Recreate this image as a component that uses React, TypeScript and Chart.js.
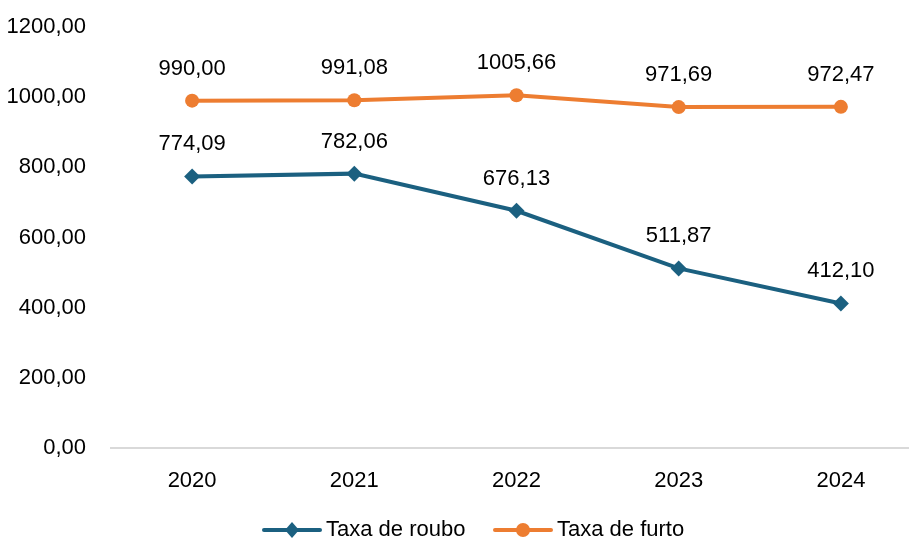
import React, { useEffect, useRef } from "react";
import { Chart, registerables } from "chart.js";

Chart.register(...registerables);

const years = ["2020", "2021", "2022", "2023", "2024"];
const roubo = [774.09, 782.06, 676.13, 511.87, 412.1];
const furto = [990.0, 991.08, 1005.66, 971.69, 972.47];
const seriesNames = ["Taxa de roubo", "Taxa de furto"];
const yTicks = [0, 200, 400, 600, 800, 1000, 1200];

const BLUE = "#1b6080";
const ORANGE = "#ed7d31";
const FONT = "'Liberation Sans', Arial, sans-serif";

const fmt = (v: number) => v.toFixed(2).replace(".", ",");

const labelPlugin = {
  id: "valueLabels",
  afterDatasetsDraw(chart: any) {
    const ctx = chart.ctx;
    ctx.save();
    ctx.font = `22px ${FONT}`;
    ctx.fillStyle = "#000";
    ctx.textAlign = "center";
    ctx.textBaseline = "middle";
    chart.data.datasets.forEach((ds: any, i: number) => {
      const meta = chart.getDatasetMeta(i);
      meta.data.forEach((pt: any, j: number) => {
        ctx.fillText(fmt(ds.data[j]), pt.x, pt.y - 32);
      });
    });
    ctx.restore();
  },
};

const legendPlugin = {
  id: "customLegend",
  afterDraw(chart: any) {
    const ctx = chart.ctx;
    ctx.save();
    ctx.font = `22px ${FONT}`;
    ctx.textBaseline = "middle";
    ctx.textAlign = "left";
    const y = 530;
    const items = [
      { x: 264, color: BLUE, style: "diamond", text: seriesNames[0] },
      { x: 495, color: ORANGE, style: "circle", text: seriesNames[1] },
    ];
    items.forEach((it) => {
      ctx.strokeStyle = it.color;
      ctx.fillStyle = it.color;
      ctx.lineWidth = 4;
      ctx.lineCap = "round";
      ctx.beginPath();
      ctx.moveTo(it.x, y);
      ctx.lineTo(it.x + 56, y);
      ctx.stroke();
      const cx = it.x + 28;
      ctx.beginPath();
      if (it.style === "circle") {
        ctx.arc(cx, y, 7, 0, Math.PI * 2);
      } else {
        ctx.moveTo(cx, y - 8);
        ctx.lineTo(cx + 7, y);
        ctx.lineTo(cx, y + 8);
        ctx.lineTo(cx - 7, y);
        ctx.closePath();
      }
      ctx.fill();
      ctx.fillStyle = "#000";
      ctx.fillText(it.text, it.x + 62, y);
    });
    ctx.restore();
  },
};

export default function App() {
  const ref = useRef<HTMLCanvasElement | null>(null);
  useEffect(() => {
    document.body.style.margin = "0";
    document.body.style.overflow = "hidden";
    const chart = new Chart(ref.current as HTMLCanvasElement, {
      type: "line",
      data: {
        labels: years,
        datasets: [
          {
            label: seriesNames[0],
            data: roubo,
            borderColor: BLUE,
            backgroundColor: BLUE,
            borderWidth: 4,
            pointStyle: "rectRot",
            pointRadius: 8,
            pointBorderWidth: 0,
            tension: 0,
          },
          {
            label: seriesNames[1],
            data: furto,
            borderColor: ORANGE,
            backgroundColor: ORANGE,
            borderWidth: 4,
            pointStyle: "circle",
            pointRadius: 7,
            pointBorderWidth: 0,
            tension: 0,
          },
        ],
      },
      options: {
        animation: false,
        responsive: false,
        devicePixelRatio: 1,
        layout: { padding: { top: 27, left: 0, right: 0, bottom: 46 } },
        plugins: { legend: { display: false }, tooltip: { enabled: false } },
        scales: {
          x: {
            offset: true,
            grid: { display: false, drawTicks: false },
            border: { display: true, color: "#d9d9d9", width: 2 },
            ticks: { color: "#000", font: { family: FONT, size: 22 }, padding: 20 },
            afterFit: (s: any) => {
              s.height = 50;
              s.paddingLeft = 0;
              s.paddingRight = 0;
            },
          },
          y: {
            min: 0,
            max: 1200,
            afterBuildTicks: (s: any) => {
              s.ticks = yTicks.map((v) => ({ value: v }));
            },
            grid: { display: false, drawTicks: false },
            border: { display: false },
            ticks: {
              color: "#000",
              font: { family: FONT, size: 22 },
              padding: 25,
              callback: (v: any) => fmt(Number(v)),
            },
            afterFit: (s: any) => {
              s.width = 111;
              s.paddingTop = 0;
              s.paddingBottom = 0;
            },
          },
        },
      },
      plugins: [labelPlugin, legendPlugin],
    });
    return () => chart.destroy();
  }, []);
  return (
    <div style={{ width: 909, height: 544, overflow: "hidden", position: "relative" }}>
      <canvas ref={ref} width={930} height={544} style={{ display: "block", width: 930, height: 544 }} />
    </div>
  );
}
